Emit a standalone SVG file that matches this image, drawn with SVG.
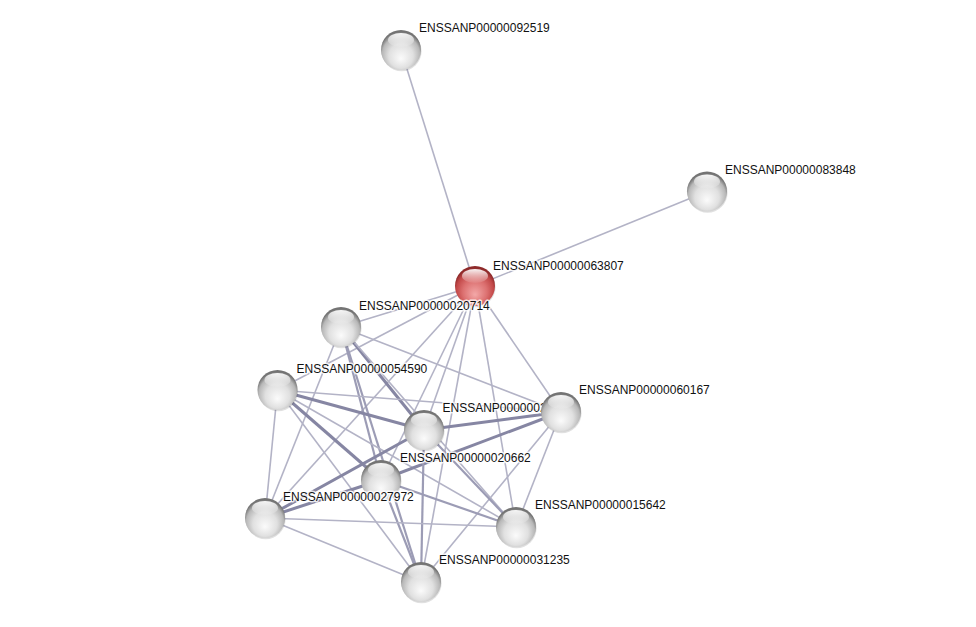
<svg xmlns="http://www.w3.org/2000/svg" width="976" height="627" viewBox="0 0 976 627">
<style>
.e1{stroke:#b3b3c6;stroke-width:1.6;fill:none}
.e2{stroke:#9c9cb5;stroke-width:2.2;fill:none}
.e3{stroke:#8686a3;stroke-width:3;fill:none}
.lbl{font-family:"Liberation Sans",Arial,sans-serif;font-size:12px;fill:#111;paint-order:stroke;stroke:#ffffff;stroke-width:3px;stroke-opacity:0.8;stroke-linejoin:round}
</style>
<defs>
<radialGradient id="gBody" cx="0.5" cy="0.6" r="0.55" fx="0.5" fy="0.72">
<stop offset="0" stop-color="#fbfbfb"/>
<stop offset="0.55" stop-color="#e0e0e0"/>
<stop offset="0.85" stop-color="#b8b8b8"/>
<stop offset="1" stop-color="#747474"/>
</radialGradient>
<radialGradient id="rBody" cx="0.5" cy="0.6" r="0.55" fx="0.5" fy="0.72">
<stop offset="0" stop-color="#f3a8a8"/>
<stop offset="0.55" stop-color="#dc7070"/>
<stop offset="0.85" stop-color="#c24848"/>
<stop offset="1" stop-color="#8e2a2a"/>
</radialGradient>
<linearGradient id="hl" x1="0" y1="0" x2="0" y2="1">
<stop offset="0" stop-color="#ffffff" stop-opacity="0.95"/>
<stop offset="1" stop-color="#ffffff" stop-opacity="0.05"/>
</linearGradient>
<g id="sphere">
<circle cx="0.6" cy="1.2" r="20" fill="#000" fill-opacity="0.12"/>
<circle r="20" fill="url(#gBody)"/>
<ellipse cx="0" cy="-10" rx="13" ry="7" fill="url(#hl)"/>
</g>
<g id="rsphere">
<circle cx="0.6" cy="1.2" r="20" fill="#000" fill-opacity="0.12"/>
<circle r="20" fill="url(#rBody)"/>
<ellipse cx="0" cy="-10" rx="13" ry="7" fill="url(#hl)"/>
</g>
</defs>
<rect width="976" height="627" fill="#ffffff"/>
<g id="connectors">
<line class="e1" x1="475" y1="286" x2="401" y2="50"/>
<line class="e1" x1="475" y1="286" x2="707" y2="191.5"/>
<line class="e1" x1="475" y1="286" x2="341" y2="327"/>
<line class="e1" x1="475" y1="286" x2="277.5" y2="390"/>
<line class="e1" x1="475" y1="286" x2="561" y2="412"/>
<line class="e1" x1="475" y1="286" x2="424" y2="430"/>
<line class="e1" x1="475" y1="286" x2="381" y2="480"/>
<line class="e1" x1="475" y1="286" x2="265" y2="518"/>
<line class="e1" x1="475" y1="286" x2="516" y2="527"/>
<line class="e1" x1="475" y1="286" x2="421" y2="582"/>
<line class="e1" x1="341" y1="327" x2="561" y2="412"/>
<line class="e3" x1="341" y1="327" x2="424" y2="430"/>
<line class="e2" x1="341" y1="327" x2="381" y2="480"/>
<line class="e1" x1="341" y1="327" x2="265" y2="518"/>
<line class="e1" x1="341" y1="327" x2="516" y2="527"/>
<line class="e2" x1="341" y1="327" x2="421" y2="582"/>
<line class="e1" x1="277.5" y1="390" x2="561" y2="412"/>
<line class="e3" x1="277.5" y1="390" x2="424" y2="430"/>
<line class="e3" x1="277.5" y1="390" x2="381" y2="480"/>
<line class="e1" x1="277.5" y1="390" x2="265" y2="518"/>
<line class="e1" x1="277.5" y1="390" x2="516" y2="527"/>
<line class="e1" x1="277.5" y1="390" x2="421" y2="582"/>
<line class="e3" x1="561" y1="412" x2="424" y2="430"/>
<line class="e3" x1="561" y1="412" x2="381" y2="480"/>
<line class="e1" x1="561" y1="412" x2="516" y2="527"/>
<line class="e1" x1="561" y1="412" x2="421" y2="582"/>
<line class="e3" x1="424" y1="430" x2="265" y2="518"/>
<line class="e2" x1="424" y1="430" x2="516" y2="527"/>
<line class="e2" x1="424" y1="430" x2="421" y2="582"/>
<line class="e3" x1="381" y1="480" x2="265" y2="518"/>
<line class="e2" x1="381" y1="480" x2="516" y2="527"/>
<line class="e2" x1="381" y1="480" x2="421" y2="582"/>
<line class="e1" x1="265" y1="518" x2="516" y2="527"/>
<line class="e1" x1="265" y1="518" x2="421" y2="582"/>
</g>
<g id="n92519"><use href="#sphere" x="401" y="50"/><text class="lbl" x="419" y="32">ENSSANP00000092519</text></g>
<g id="n83848"><use href="#sphere" x="707" y="191.5"/><text class="lbl" x="725" y="173.5">ENSSANP00000083848</text></g>
<g id="n63807"><use href="#rsphere" x="475" y="286"/><text class="lbl" x="493" y="269.5">ENSSANP00000063807</text></g>
<g id="n20714"><use href="#sphere" x="341" y="327"/><text class="lbl" x="359" y="309.5">ENSSANP00000020714</text></g>
<g id="n54590"><use href="#sphere" x="277.5" y="390"/><text class="lbl" x="296.5" y="372.5">ENSSANP00000054590</text></g>
<g id="n0000002"><use href="#sphere" x="424" y="430"/><text class="lbl" x="442.5" y="412">ENSSANP0000002</text></g>
<g id="n60167"><use href="#sphere" x="561" y="412"/><text class="lbl" x="579" y="393.5">ENSSANP00000060167</text></g>
<g id="n20662"><use href="#sphere" x="381" y="480"/><text class="lbl" x="400" y="461.5">ENSSANP00000020662</text></g>
<g id="n27972"><use href="#sphere" x="265" y="518"/><text class="lbl" x="283" y="501">ENSSANP00000027972</text></g>
<g id="n15642"><use href="#sphere" x="516" y="527"/><text class="lbl" x="535" y="508.5">ENSSANP00000015642</text></g>
<g id="n31235"><use href="#sphere" x="421" y="582"/><text class="lbl" x="439" y="563.5">ENSSANP00000031235</text></g>
</svg>
